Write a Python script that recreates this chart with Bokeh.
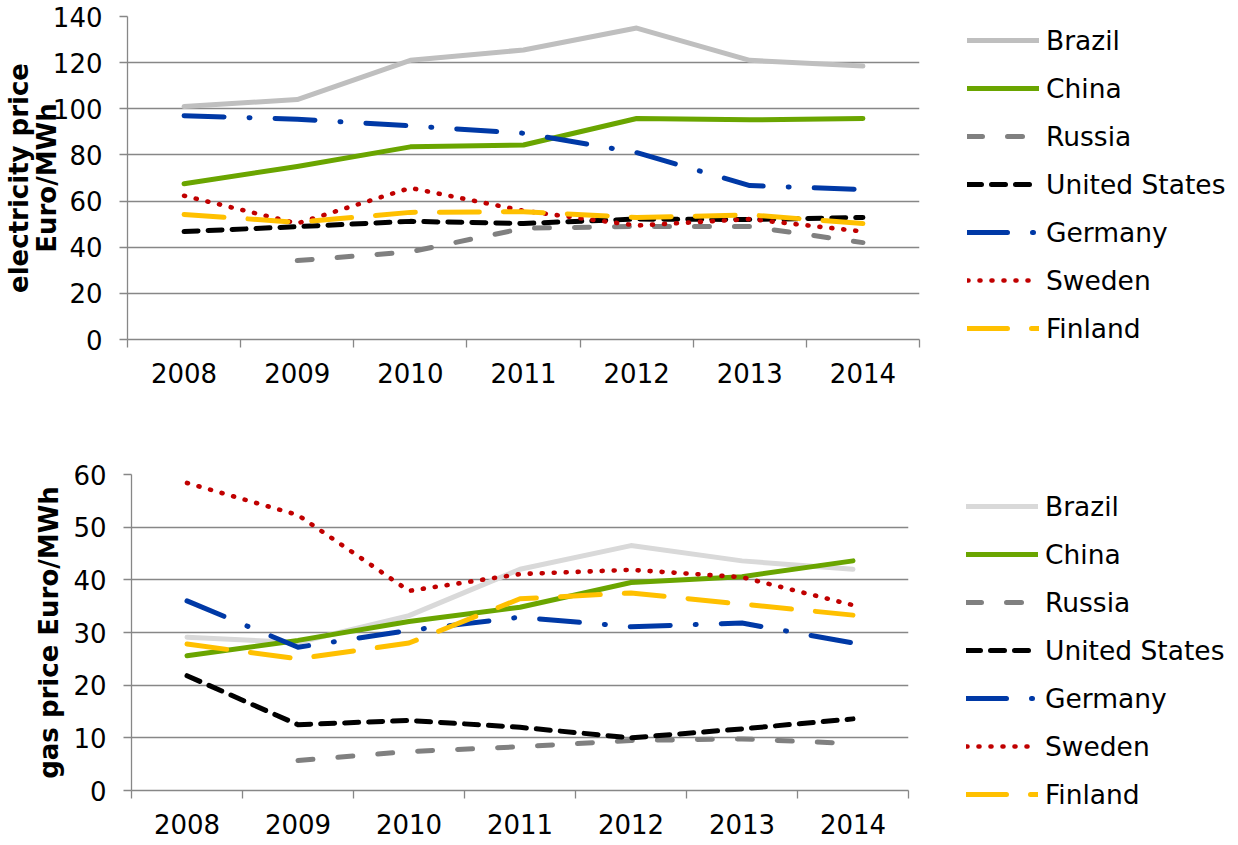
from bokeh.plotting import figure
from bokeh.models import Range1d, FixedTicker, Legend, LegendItem, GlobalInlineStyleSheet
from bokeh.embed import file_html
from bokeh.resources import INLINE

nan = float("nan")

years = ["2008", "2009", "2010", "2011", "2012", "2013", "2014"]
countries = ["Brazil", "China", "Russia", "United States", "Germany", "Sweden", "Finland"]

# electricity price, Euro/MWh
elec_brazil = [101, 104, 121, 125.5, 135, 121, 118.5]
elec_china = [67.5, 75, 83.5, 84.3, 95.8, 95.2, 95.8]
elec_russia = [nan, 34.2, 38, 48.2, 49, 49, 42]
elec_us = [46.8, 48.9, 51.2, 50.3, 52.2, 52, 52.9]
elec_germany = [97, 95.5, 92.6, 89.4, 81, 66.7, 65]
elec_sweden = [62.3, 50.3, 65.7, 55.8, 49.4, 52.2, 46.8]
elec_finland = [54.2, 50.8, 55.1, 55.4, 52.9, 54, 50.3]

# gas price, Euro/MWh
gas_brazil = [29.1, 28.1, 33.2, 42, 46.5, 43.6, 42]
gas_china = [25.6, 28.5, 32.1, 34.8, 39.5, 40.6, 43.6]
gas_russia = [nan, 5.7, 7.4, 8.3, 9.5, 9.8, 8.9]
gas_us = [21.8, 12.5, 13.3, 12, 10, 11.7, 13.6]
gas_germany = [36, 27.2, 30.4, 32.9, 31.1, 31.8, 28]
gas_sweden = [58.4, 52.3, 37.9, 41.1, 41.9, 40.5, 35.2]
gas_finland = [27.8, 25, 28, 36.4, 37.5, 35.4, 33.3]

elec = [elec_brazil, elec_china, elec_russia, elec_us, elec_germany, elec_sweden, elec_finland]
gas = [gas_brazil, gas_china, gas_russia, gas_us, gas_germany, gas_sweden, gas_finland]

FONT = "DejaVu Sans"
GRID = "#878787"

styles = {
    "Brazil": dict(line_color="#BFBFBF", line_width=5),
    "China": dict(line_color="#6AA500", line_width=5),
    "Russia": dict(line_color="#808080", line_width=5, line_dash="15 25"),
    "United States": dict(line_color="#000000", line_width=5, line_dash="14 10"),
    "Germany": dict(line_color="#0039A6", line_width=5, line_dash="40 25 1 25"),
    "Sweden": dict(line_color="#C00000", line_width=4.6, line_dash="1 11"),
    "Finland": dict(line_color="#FFC000", line_width=5, line_dash="40 24"),
}

xs = [i + 0.5 for i in range(len(years))]


def make(series, ymax, ystep, label, FW, FH, bl, br, bt, bb, leg_loc,
         brazil_color, ylab_standoff, ylab_lh, ytick_standoff, xtick_standoff):
    p = figure(frame_width=FW, frame_height=FH, x_range=Range1d(0, len(years)),
               y_range=Range1d(0, ymax), output_backend="svg",
               toolbar_location=None, min_border_left=bl, min_border_right=br,
               min_border_top=bt, min_border_bottom=bb)
    p.outline_line_color = None
    p.background_fill_color = "white"
    p.xgrid.grid_line_color = None
    p.ygrid.grid_line_color = GRID
    p.ygrid.grid_line_width = 1.3

    ya = p.yaxis[0]
    ya.ticker = FixedTicker(ticks=list(range(0, ymax + 1, ystep)))
    ya.axis_line_color = GRID
    ya.axis_line_width = 1.3
    ya.major_tick_line_color = GRID
    ya.major_tick_line_width = 1.3
    ya.major_tick_out = 8
    ya.major_tick_in = 0
    ya.minor_tick_line_color = None
    ya.major_label_text_font = FONT
    ya.major_label_text_font_size = "26px"
    ya.major_label_text_color = "#000000"
    ya.major_label_standoff = ytick_standoff
    ya.axis_label = label
    ya.axis_label_text_font = FONT
    ya.axis_label_text_font_size = "26px"
    ya.axis_label_text_font_style = "bold"
    ya.axis_label_text_color = "#000000"
    ya.axis_label_text_line_height = ylab_lh
    ya.axis_label_standoff = ylab_standoff

    xa = p.xaxis[0]
    xa.ticker = FixedTicker(ticks=xs, minor_ticks=list(range(len(years) + 1)))
    xa.major_label_overrides = {x: y for x, y in zip(xs, years)}
    xa.axis_line_color = GRID
    xa.axis_line_width = 1.3
    xa.major_tick_line_color = None
    xa.major_tick_out = 0
    xa.major_tick_in = 0
    xa.minor_tick_line_color = GRID
    xa.minor_tick_line_width = 1.3
    xa.minor_tick_out = 8
    xa.minor_tick_in = 0
    xa.major_label_text_font = FONT
    xa.major_label_text_font_size = "26px"
    xa.major_label_text_color = "#000000"
    xa.major_label_standoff = xtick_standoff

    items = []
    for name, vals in zip(countries, series):
        st = dict(styles[name])
        if name == "Brazil":
            st["line_color"] = brazil_color
        r = p.line(x=xs, y=vals, line_cap="round", line_join="round", **st)
        items.append(LegendItem(label=name, renderers=[r]))

    leg = Legend(items=items, location=leg_loc)
    leg.label_text_font = FONT
    leg.label_text_font_size = "26.5px"
    leg.label_text_color = "#000000"
    leg.glyph_width = 72
    leg.glyph_height = 34
    leg.label_height = 34
    leg.spacing = 14
    leg.padding = 0
    leg.margin = 0
    leg.label_standoff = 7
    leg.background_fill_alpha = 0
    leg.border_line_color = None
    p.add_layout(leg, "right")
    return p


top = make(elec, 140, 20, "electricity price\nEuro/MWh",
           FW=792, FH=323, bl=127, br=0, bt=16, bb=97,
           leg_loc=(48, -6), brazil_color="#BFBFBF",
           ylab_standoff=-12, ylab_lh=0.92, ytick_standoff=17, xtick_standoff=15)

bottom = make(gas, 60, 10, "gas price Euro/MWh",
              FW=777, FH=316, bl=131, br=0, bt=38, bb=51,
              leg_loc=(58, -21), brazil_color="#D9D9D9",
              ylab_standoff=6, ylab_lh=1.1, ytick_standoff=17, xtick_standoff=15)

top.stylesheets = [GlobalInlineStyleSheet(css="html, body { overflow: hidden !important; }")]

open("out.html", "w").write(file_html([top, bottom], INLINE))
